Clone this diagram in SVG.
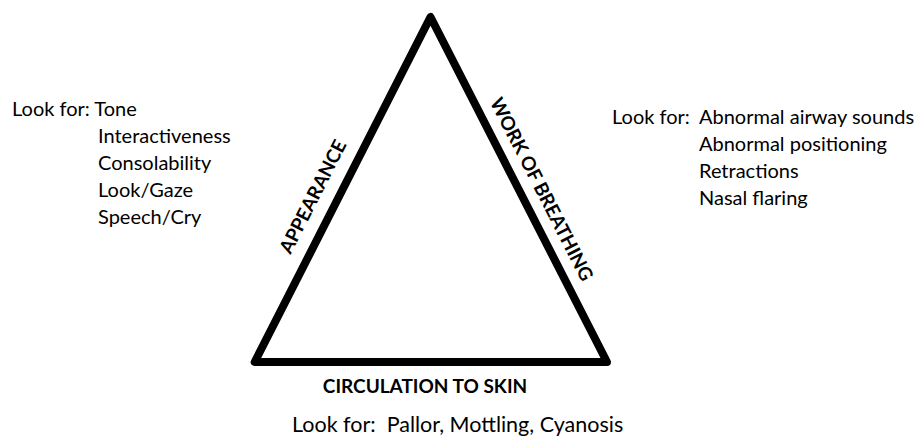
<svg xmlns="http://www.w3.org/2000/svg" width="922" height="438" viewBox="0 0 922 438">
<style>
.t{font-family:Lato,"Open Sans",sans-serif;font-size:20px;fill:#000}
.big{font-size:21.5px}
.b{font-family:Lato,"Open Sans",sans-serif;font-size:19px;font-weight:bold;fill:#000}
.edge{fill:none;stroke:#000;stroke-width:8;stroke-linejoin:round}
</style>
<rect width="922" height="438" fill="#fff"/>
<g id="connectors">
<polygon class="edge" points="430.5,17 254.7,362 607,362"/>
</g>
<g id="appearance">
<text class="b" transform="translate(318.7,199.7) rotate(-63)" text-anchor="middle">APPEARANCE</text>
</g>
<g id="work-of-breathing">
<text class="b" transform="translate(535.8,192.2) rotate(62.9)" text-anchor="middle">WORK OF BREATHING</text>
</g>
<g id="circulation">
<text class="b" x="425" y="393" text-anchor="middle">CIRCULATION TO SKIN</text>
</g>
<g id="look-appearance">
<text class="t" x="12" y="116">Look for: Tone</text>
<text class="t" x="98" y="143">Interactiveness</text>
<text class="t" x="98" y="170">Consolability</text>
<text class="t" x="98" y="197">Look/Gaze</text>
<text class="t" x="98" y="224">Speech/Cry</text>
</g>
<g id="look-breathing">
<text class="t" x="612" y="124">Look for:</text>
<text class="t" x="699" y="124">Abnormal airway sounds</text>
<text class="t" x="699" y="151">Abnormal positioning</text>
<text class="t" x="699" y="178">Retractions</text>
<text class="t" x="699" y="205">Nasal flaring</text>
</g>
<g id="look-circulation">
<text class="t big" x="292" y="432" xml:space="preserve">Look for:  Pallor, Mottling, Cyanosis</text>
</g>
</svg>
